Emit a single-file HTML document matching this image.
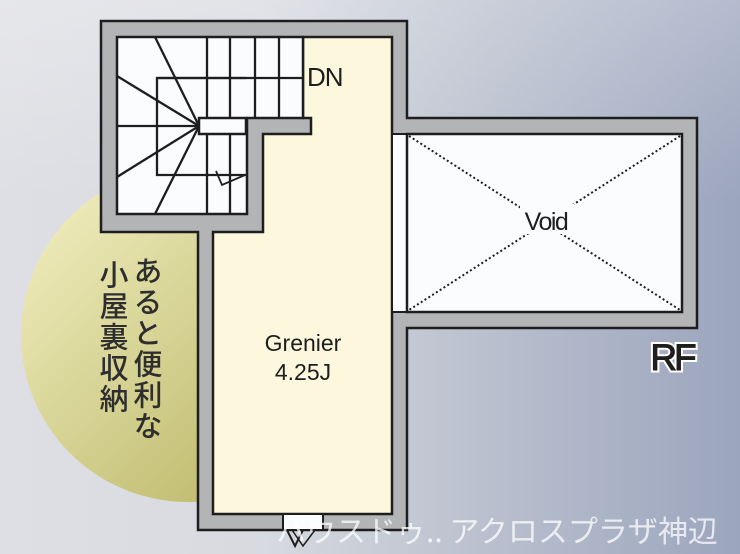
<!DOCTYPE html>
<html><head><meta charset="utf-8"><style>
html,body{margin:0;padding:0;}
body{width:740px;height:554px;overflow:hidden;background:linear-gradient(90deg,#dedfe4 0%,#d8dae0 35%,#bac0ce 65%,#9ba5bd 100%);position:relative;font-family:"Liberation Sans","Noto Sans CJK JP",sans-serif;}
svg{position:absolute;left:0;top:0;}
.v{position:absolute;writing-mode:vertical-rl;font-family:"Noto Sans CJK JP",sans-serif;font-size:29px;line-height:32px;color:#2e2e2e;letter-spacing:2px;font-weight:500;}
</style></head><body>
<svg width="740" height="554" viewBox="0 0 740 554">
<defs>
<linearGradient id="c" x1="0" y1="0" x2="1" y2="1">
<stop offset="0" stop-color="#f5f2c6"/><stop offset="1" stop-color="#b2ae5a"/>
</linearGradient>
<linearGradient id="t" x1="0" y1="0" x2="0" y2="1">
<stop offset="0" stop-color="#ffffff" stop-opacity="0.25"/><stop offset="1" stop-color="#ffffff" stop-opacity="0"/>
</linearGradient>
</defs>
<rect width="740" height="200" fill="url(#t)"/>
<circle cx="188" cy="335" r="167" fill="url(#c)"/>
<g stroke="#1e1e1e" stroke-width="2.5" stroke-linejoin="miter">
<polygon points="101,21 407,21 407,118 697,118 697,328 407,328 407,530 198,530 198,232 101,232" fill="#b3b4b6"/>
<polygon points="303,37 392,37 392,514 213,514 213,232 263,232 263,134 311,134 311,118 303,118" fill="#fdf7dd"/>
<polygon points="117,37 303,37 303,118 247,118 247,214 117,214" fill="#fbfcfe"/>
<rect x="199" y="118" width="47" height="16" fill="#fbfcfe"/>
<rect x="392" y="134" width="15" height="178" fill="#fbfcfe" stroke-width="2"/>
<rect x="407" y="134" width="275" height="178" fill="#fbfcfe"/>
<rect x="283" y="514" width="40" height="16" fill="#fbfcfe" stroke-width="2"/>
</g>
<g stroke="#1e1e1e" stroke-width="2.3" fill="none">
<line x1="207" y1="37" x2="207" y2="118"/><line x1="230" y1="37" x2="230" y2="118"/>
<line x1="255" y1="37" x2="255" y2="118"/><line x1="279" y1="37" x2="279" y2="118"/>
<line x1="207" y1="134" x2="207" y2="214"/><line x1="230" y1="134" x2="230" y2="214"/>
<polyline points="246,78 157,78 157,175 246,175"/>
<line x1="157" y1="78" x2="303" y2="78"/>
<line x1="117" y1="126" x2="199" y2="126"/>
<line x1="199" y1="126" x2="155" y2="37"/>
<line x1="199" y1="126" x2="117" y2="76"/>
<line x1="199" y1="126" x2="117" y2="177"/>
<line x1="199" y1="126" x2="155" y2="214"/>
<polyline points="216,171 222,185 245,175" stroke-width="1.8"/>
<polyline points="287,530 295,546 303,530" stroke-width="2"/>
<polyline points="292,530 303,546 315,530" stroke-width="1.5"/>
</g>
<g stroke="#1e1e1e" stroke-width="2" stroke-dasharray="2,2.5">
<line x1="409" y1="136" x2="680" y2="310"/><line x1="680" y1="136" x2="409" y2="310"/>
</g>
<rect x="520" y="204" width="54" height="30" fill="#fbfcfe"/>
<text x="307" y="86" font-size="26" fill="#1e1e1e" letter-spacing="-1">DN</text>
<text x="546" y="230" font-size="25" fill="#1e1e1e" text-anchor="middle" letter-spacing="-1.5">Void</text>
<text x="303" y="351" font-size="23" fill="#1e1e1e" text-anchor="middle">Grenier</text>
<text x="303" y="380" font-size="23" fill="#1e1e1e" text-anchor="middle">4.25J</text>
<text x="672" y="370" font-size="37" fill="#1e1e1e" stroke="#ffffff" stroke-width="5" paint-order="stroke" text-anchor="middle" letter-spacing="-3">RF</text>
<text x="672" y="370" font-size="37" fill="#1e1e1e" stroke="#1e1e1e" stroke-width="1" text-anchor="middle" letter-spacing="-3">RF</text>
<text x="276" y="542" font-size="30" fill="#ffffff" fill-opacity="0.75" font-family="Noto Sans CJK JP,sans-serif">ハウスドゥ.. アクロスプラザ神辺</text>
</svg>
<div class="v" style="left:132px;top:256px;">あると便利な</div>
<div class="v" style="left:98px;top:260px;">小屋裏収納</div>
</body></html>
